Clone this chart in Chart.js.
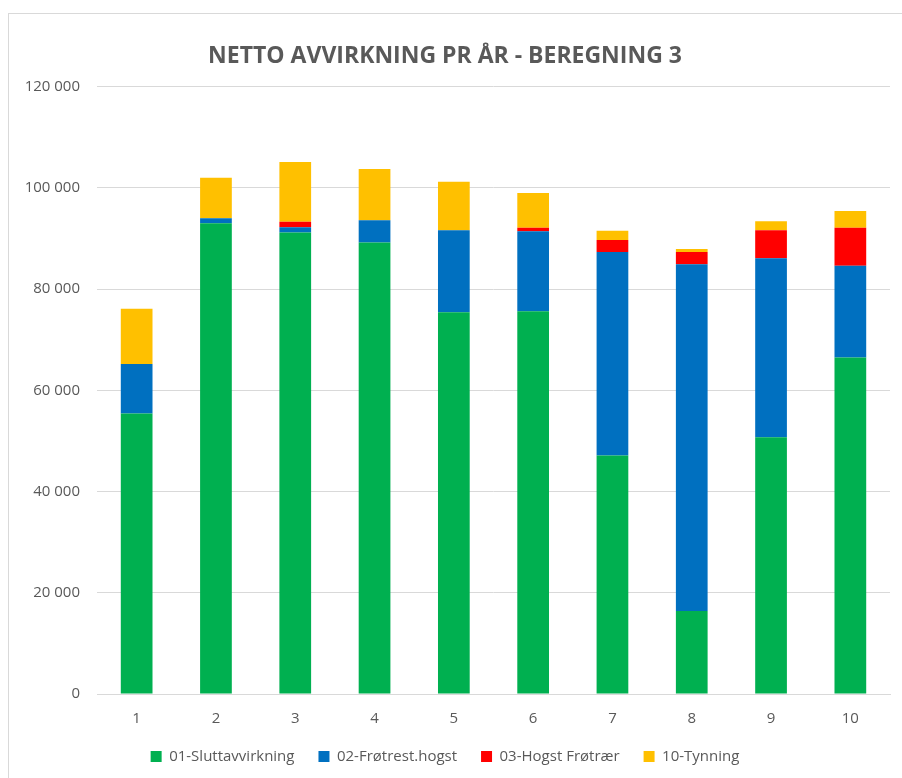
<!DOCTYPE html>
<html>
<head>
<meta charset="utf-8">
<script src="https://cdn.jsdelivr.net/npm/chart.js@4/dist/chart.umd.min.js"></script>
<style>
  html, body { margin: 0; padding: 0; background: #fff; overflow: hidden; }
  #frame { position: absolute; left: 8px; top: 13px; width: 1000px; height: 1000px; border: 1px solid #d9d9d9; box-sizing: border-box; }
  #wrap { position: absolute; left: 0; top: 0; width: 902px; height: 778px; }
</style>
</head>
<body>
<div id="frame"></div>
<div id="wrap"><canvas id="chart" width="902" height="778"></canvas></div>
<script>
// data
const perioder = ['1', '2', '3', '4', '5', '6', '7', '8', '9', '10'];
const sluttavvirkning = [55400, 93000, 91200, 89200, 75400, 75600, 47100, 16400, 50700, 66500];
const frotrestHogst   = [9800, 1000, 1000, 4400, 16200, 15800, 40200, 68500, 35400, 18100];
const hogstFrotraer   = [0, 0, 1100, 0, 0, 700, 2400, 2400, 5500, 7500];
const tynning         = [10900, 8000, 11800, 10100, 9600, 6900, 1800, 600, 1800, 3300];
const yTicks = [0, 20000, 40000, 60000, 80000, 100000, 120000];

const tekst = '#595959';
const font = "'Open Sans', sans-serif";

function mellomrom(v) {
    return String(v).replace(/\B(?=(\d{3})+(?!\d))/g, ' ');
}

function serie(label, data, farge) {
    return { label: label, data: data, backgroundColor: farge, borderWidth: 0,
             barPercentage: 0.4, categoryPercentage: 1.0 };
}

new Chart(document.getElementById('chart'), {
    type: 'bar',
    data: {
        labels: perioder,
        datasets: [
            serie('01-Sluttavvirkning', sluttavvirkning, '#00B050'),
            serie('02-Frøtrest.hogst', frotrestHogst, '#0070C0'),
            serie('03-Hogst Frøtrær', hogstFrotraer, '#FF0000'),
            serie('10-Tynning', tynning, '#FFC000')
        ]
    },
    options: {
        responsive: false,
        animation: false,
        layout: { padding: { left: 0, right: 12, top: 0, bottom: 4 } },
        plugins: {
            title: {
                display: true,
                text: 'NETTO AVVIRKNING PR ÅR - BEREGNING 3',
                color: tekst,
                font: { family: font, size: 23, weight: 'bold' },
                padding: { top: 43, bottom: 16 }
            },
            legend: {
                position: 'bottom',
                labels: {
                    color: tekst,
                    font: { family: font, size: 15 },
                    boxWidth: 11, boxHeight: 11, padding: 24
                }
            },
            tooltip: { enabled: false }
        },
        scales: {
            x: {
                stacked: true,
                grid: { display: false, drawTicks: false },
                border: { color: '#d9d9d9' },
                ticks: { color: tekst, font: { family: font, size: 15 }, padding: 16 },
                afterFit: (ax) => { ax.height -= 19; }
            },
            y: {
                stacked: true,
                min: 0, max: 120000,
                afterBuildTicks: (ax) => { ax.ticks = yTicks.map(v => ({ value: v })); },
                afterFit: (ax) => { ax.width = 97; },
                grid: { color: '#d9d9d9', drawTicks: false },
                border: { display: false },
                ticks: { color: tekst, font: { family: font, size: 15 }, padding: 17,
                         callback: (v) => mellomrom(v) }
            }
        }
    }
});
</script>
</body>
</html>
